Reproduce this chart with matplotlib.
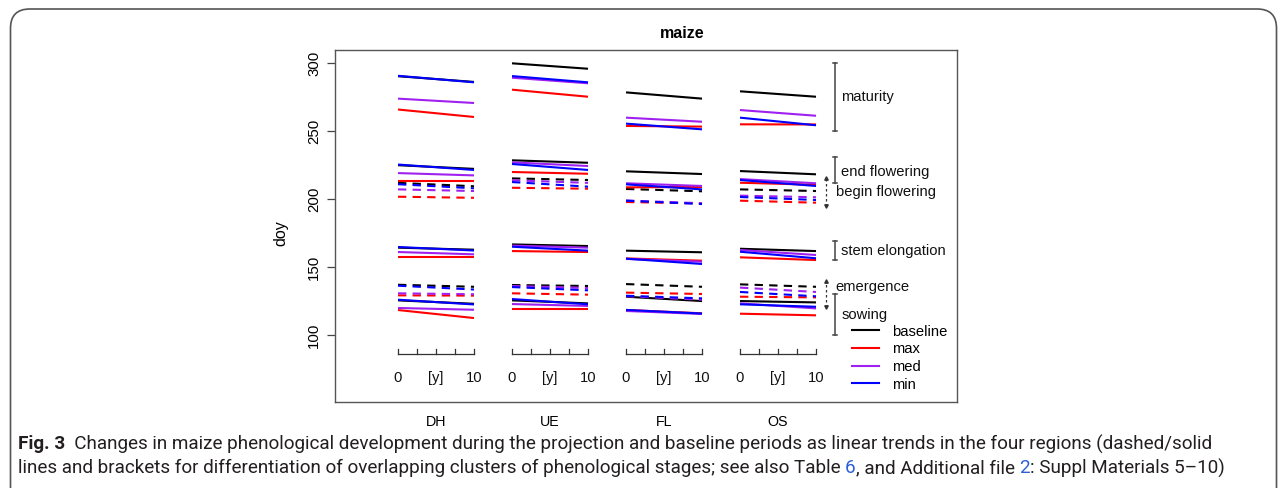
import matplotlib
matplotlib.use("Agg")
from matplotlib import pyplot as plt
from matplotlib import font_manager
from matplotlib.patches import FancyBboxPatch
from matplotlib.lines import Line2D

regions = ["DH", "UE", "FL", "OS"]
region_offset = [0, 15, 30, 45]
stages = ["sowing", "emergence", "stem elongation", "begin flowering",
          "end flowering", "maturity"]
dashed_stages = ["emergence", "begin flowering"]

# (start, end) doy of the linear trend, per region row, per stage column
baseline = [
    [(125.5, 123.0), (137.0, 135.5), (164.3, 162.8), (212.0, 209.5), (225.0, 222.3), (290.5, 286.3)],
    [(125.5, 123.3), (136.8, 136.1), (166.7, 165.5), (215.3, 214.1), (228.6, 226.8), (300.0, 296.0)],
    [(128.2, 125.0), (137.5, 135.5), (162.1, 160.9), (207.5, 205.8), (220.5, 218.5), (278.6, 274.0)],
    [(125.0, 124.0), (137.3, 135.5), (163.5, 161.8), (207.2, 206.0), (220.7, 218.3), (279.4, 275.4)],
]
maxi = [
    [(118.4, 112.5), (129.2, 129.0), (157.4, 157.4), (201.8, 201.0), (213.6, 213.6), (266.0, 260.5)],
    [(119.4, 119.4), (130.7, 129.7), (161.8, 161.1), (208.4, 207.7), (220.0, 218.7), (280.6, 275.4)],
    [(118.4, 116.0), (131.2, 130.2), (156.4, 154.7), (197.9, 196.9), (208.7, 209.0), (253.9, 253.4)],
    [(115.7, 114.5), (128.2, 127.7), (157.2, 155.2), (198.9, 197.4), (212.1, 210.6), (255.1, 255.0)],
]
med = [
    [(119.9, 118.6), (130.7, 130.0), (161.1, 159.4), (207.2, 206.0), (219.2, 217.5), (274.0, 270.8)],
    [(122.8, 121.4), (136.1, 134.6), (165.8, 164.3), (213.9, 212.0), (227.1, 224.4), (289.4, 285.3)],
    [(117.7, 115.5), (128.6, 126.0), (156.0, 154.0), (199.0, 197.0), (211.7, 209.7), (260.0, 257.0)],
    [(123.3, 119.6), (134.9, 131.7), (162.6, 158.9), (202.6, 201.4), (214.8, 211.7), (265.6, 261.4)],
]
mini = [
    [(126.0, 122.5), (136.3, 133.5), (164.8, 162.2), (211.0, 208.0), (225.5, 221.5), (290.8, 286.0)],
    [(126.5, 122.6), (135.3, 132.9), (165.0, 162.1), (212.6, 209.2), (225.9, 221.5), (290.6, 286.0)],
    [(118.5, 115.8), (128.9, 127.0), (156.2, 152.3), (198.9, 196.4), (210.9, 207.2), (255.6, 251.4)],
    [(122.6, 120.8), (131.7, 128.5), (161.3, 156.5), (201.6, 199.4), (214.1, 209.7), (260.0, 254.4)],
]
series_names = ["baseline", "max", "med", "min"]
series_colors = ["black", "#FF0000", "#A020F0", "#0000FF"]

# brackets on the right: (label, low, high, dashed)
brackets = [
    ("maturity", 250, 300, False),
    ("end flowering", 212, 231, False),
    ("begin flowering", 195, 215.5, True),
    ("stem elongation", 155, 169.5, False),
    ("emergence", 120.5, 140, True),
    ("sowing", 100, 130, False),
]
bracket_label_y = [275, 220, 205, 162, 135, 115]

available = {f.name for f in font_manager.fontManager.ttflist}
cap_font = next(f for f in ["Liberation Sans Narrow", "Roboto", "Open Sans", "DejaVu Sans"]
                if f in available)

plt.rcParams["font.family"] = ["Liberation Sans", "DejaVu Sans"]

W, H = 1285, 488
fig = plt.figure(figsize=(W / 100, H / 100), dpi=100)

ax = fig.add_axes([335 / W, 1 - 402 / H, 622 / W, 352 / H])
ax.set_xlim(-8.29, 73.55)
ax.set_ylim(50.7, 309.8)

all_series = [baseline, maxi, med, mini]
for r, off in enumerate(region_offset):
    for s, st in enumerate(stages):
        ls = (0, (4, 3)) if st in dashed_stages else "-"
        for data, col in zip(all_series, series_colors):
            y0, y1 = data[r][s]
            ax.plot([off, off + 10], [y0, y1], color=col, lw=1.5, ls=ls,
                    solid_capstyle="butt", dash_capstyle="butt")

# small time axes under each region
for off in region_offset:
    ax.plot([off, off + 10], [86, 86], color="#333333", lw=0.9)
    for t in [0, 2.5, 5, 7.5, 10]:
        ax.plot([off + t, off + t], [86, 89.8], color="#333333", lw=0.9)
    for t, lab in [(0, "0"), (5, "[y]"), (10, "10")]:
        ax.text(off + t, 68.5, lab, ha="center", va="center", fontsize=10.6, color="#111111")

# stage brackets
for (lab, lo, hi, dashed), ly in zip(brackets, bracket_label_y):
    if dashed:
        bx, tx = 56.3, 57.6
        ax.plot([bx, bx], [lo, hi], color="#333333", lw=0.9, ls=(0, (2, 2)))
        ax.plot([bx], [hi], marker="^", ms=2.5, color="#333333")
        ax.plot([bx], [lo], marker="v", ms=2.5, color="#333333")
    else:
        bx, tx = 57.5, 58.3
        ax.plot([bx, bx], [lo, hi], color="#444444", lw=1.1)
        for yy in (lo, hi):
            ax.plot([bx - 0.3, bx + 0.3], [yy, yy], color="#444444", lw=1.1)
    ax.text(tx, ly, lab, ha="left", va="center", fontsize=10.6, color="#111111")

handles = [Line2D([], [], color=c, lw=1.5) for c in series_colors]
ax.legend(handles, series_names, loc="upper left", bbox_to_anchor=(0.831, 0.22),
          frameon=False, fontsize=10.6, handlelength=1.85, handletextpad=0.9,
          labelspacing=0.25, borderpad=0, borderaxespad=0)

ax.set_xticks([o + 5 for o in region_offset])
ax.set_xticklabels(regions, fontsize=10.3)
ax.tick_params(axis="x", length=0, pad=9)
ax.set_yticks([100, 150, 200, 250, 300])
ax.set_yticklabels(["100", "150", "200", "250", "300"], rotation=90, va="center", fontsize=10.8)
ax.tick_params(axis="y", length=6, width=0.9, color="#444444", pad=4)
for sp in ax.spines.values():
    sp.set_color("#555555")
    sp.set_linewidth(1.0)
ax.set_ylabel("doy", fontsize=11.5)
ax.yaxis.set_label_coords(-0.075, 0.48)

fig.text(682 / W, 1 - 33 / H, "maize", ha="center", va="center",
         fontsize=11.5, fontweight="bold")

# outer rounded frame
frame = FancyBboxPatch((10.5 / W, -0.05), 1266 / W, 1 - 9 / H + 0.05,
                       boxstyle="round,pad=0,rounding_size=0.015",
                       transform=fig.transFigure, fill=False,
                       edgecolor="#555555", lw=1.2, mutation_aspect=W / H)
fig.add_artist(frame)

# caption with coloured links
cap_color = "#231f20"
link_color = "#2b5fd9"
cap_size = 13.6
line1 = [("Fig. 3", "bold", cap_color),
         ("  Changes in maize phenological development during the projection and baseline "
          "periods as linear trends in the four regions (dashed/solid", "normal", cap_color)]
line2 = [("lines and brackets for differentiation of overlapping clusters of phenological "
          "stages; see also Table ", "normal", cap_color),
         ("6", "normal", link_color),
         (", and Additional file ", "normal", cap_color),
         ("2", "normal", link_color),
         (": Suppl Materials 5\u201310)", "normal", cap_color)]

renderer = fig.canvas.get_renderer()


def text_width(s, weight):
    # width of s including trailing spaces, measured against a marker char
    t = fig.text(0, 0, s + "|", fontsize=cap_size, fontweight=weight,
                 family=[cap_font, "DejaVu Sans"])
    m = fig.text(0, 0, "|", fontsize=cap_size, fontweight=weight,
                 family=[cap_font, "DejaVu Sans"])
    w = t.get_window_extent(renderer).width - m.get_window_extent(renderer).width
    t.remove()
    m.remove()
    return w


for parts, ypx in [(line1, 444), (line2, 468)]:
    x = 18
    for txt, weight, col in parts:
        fig.text(x / W, 1 - ypx / H, txt, ha="left", va="center", fontsize=cap_size,
                 fontweight=weight, color=col, family=[cap_font, "DejaVu Sans"])
        x += text_width(txt, weight)

fig.savefig("out.png", dpi=100)
